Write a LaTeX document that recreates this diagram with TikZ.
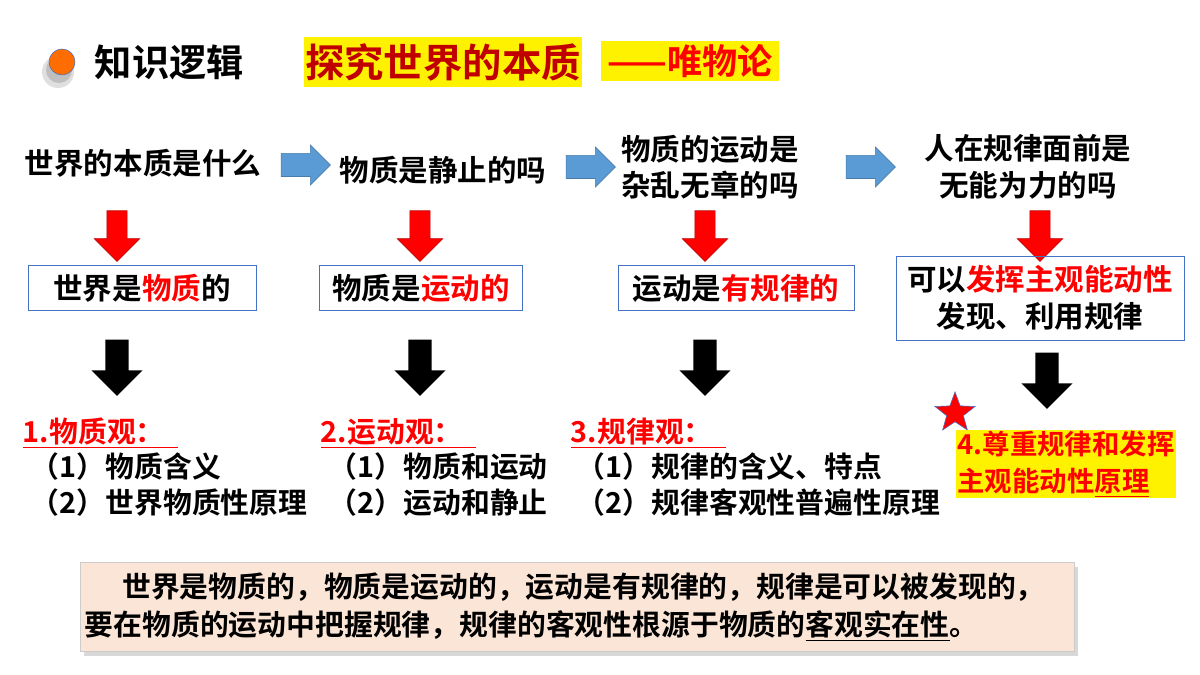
\documentclass[tikz,border=0pt]{standalone}
\usepackage{fontspec}
\setmainfont{Noto Sans CJK SC Bold}
\usetikzlibrary{shapes.arrows,shapes.geometric,shadows}
\definecolor{darkred}{HTML}{C00000}
\definecolor{arrowblue}{HTML}{5B9BD5}
\definecolor{peach}{HTML}{FBE5D6}
\definecolor{boxblue}{HTML}{4472C4}
\tikzset{
  question/.style={font=\fontsize{21}{26}\selectfont,align=center},
  result/.style={draw=boxblue,font=\fontsize{21}{26}\selectfont,align=center,inner sep=4pt},
  view/.style={font=\fontsize{20.5}{24}\selectfont,anchor=west},
  rightarrow/.style={single arrow,fill=arrowblue,draw=arrowblue!80!black,minimum height=35pt,inner sep=8pt,single arrow head extend=6pt},
  downred/.style={single arrow,shape border rotate=270,fill=red,draw=darkred,minimum height=36pt,inner sep=7pt,single arrow head extend=9pt},
  downblack/.style={single arrow,shape border rotate=270,fill=black,minimum height=40pt,inner sep=8pt,single arrow head extend=10pt}
}
\begin{document}
\begin{tikzpicture}[x=0.025cm,y=-0.025cm]
\useasboundingbox (0,0) rectangle (1200,675);
%% title
\fill[gray!25] (58,72) circle (16);
\fill[gray!50] (59,70) circle (13);
\filldraw[fill=orange!85!red,draw=boxblue] (62,62) circle (13);
\node[anchor=west,font=\fontsize{26.5}{30}\selectfont] (logic) at (90,62) {知识逻辑};
\node[fill=yellow,text=darkred,font=\fontsize{28}{32}\selectfont,minimum width=198pt,minimum height=36pt,inner sep=0pt] (theme) at (443,62) {探究世界的本质};
\node[fill=yellow,text=red,font=\fontsize{25}{28}\selectfont,minimum width=127pt,minimum height=28pt,inner sep=0pt] (school) at (690,61) {——唯物论};
%% questions
\node[question] (q1) at (143,163) {世界的本质是什么};
\node[question] (q2) at (443,170) {物质是静止的吗};
\node[question] (q3) at (710,167) {物质的运动是\\杂乱无章的吗};
\node[question] (q4) at (1028,167) {人在规律面前是\\无能为力的吗};
\node[rightarrow] (a12) at (300,165) {};
\node[rightarrow] (a23) at (585,167) {};
\node[rightarrow] (a34) at (865,167) {};
%% red arrows
\foreach \x/\n in {117/1,420/2,705/3,1040/4}
  \node[downred] (r\n) at (\x,231) {};
%% results
\node[result,minimum width=162pt,minimum height=32pt] (s1) at (142,288) {世界是\textcolor{red}{物质}的};
\node[result,minimum width=144pt,minimum height=32pt] (s2) at (421,288) {物质是\textcolor{red}{运动的}};
\node[result,minimum width=168pt,minimum height=32pt] (s3) at (736,288) {运动是\textcolor{red}{有规律的}};
\node[result,minimum width=205pt,minimum height=60pt] (s4) at (1040,298) {可以\textcolor{red}{发挥主观能动性}\\发现、利用规律};
%% black arrows
\foreach \x/\y/\n in {117/362/1,420/362/2,705/362/3,1047/375/4}
  \node[downblack] (b\n) at (\x,\y) {};
%% views
\node[view,text=red] (v1) at (18,433) {\underline{1.物质观：\ \ }};
\node[view] (v1a) at (26,467) {（1）物质含义};
\node[view] (v1b) at (26,503) {（2）世界物质性原理};
\node[view,text=red] (v2) at (316,433) {\underline{2.运动观：\ \ }};
\node[view] (v2a) at (324,467) {（1）物质和运动};
\node[view] (v2b) at (324,503) {（2）运动和静止};
\node[view,text=red] (v3) at (566,433) {\underline{3.规律观：\ \ }};
\node[view] (v3a) at (572,467) {（1）规律的含义、特点};
\node[view] (v3b) at (572,503) {（2）规律客观性普遍性原理};
\node[star,star points=5,star point ratio=2.4,fill=red,draw=boxblue,minimum size=30pt,inner sep=0pt] (mark) at (955,413) {};
\node[fill=yellow,text=red,font=\fontsize{19.5}{26}\selectfont,align=left,inner sep=1pt] (v4) at (1066,464) {4.尊重规律和发挥\\主观能动性\underline{原理}};
%% summary
\node[fill=peach,draw=gray!40,drop shadow={shadow xshift=3pt,shadow yshift=-3pt,fill=gray!60},text width=700pt,minimum height=63pt,font=\fontsize{20.5}{27}\selectfont,align=left] (sum) at (577,607)
 {\hspace{1.3em}世界是物质的，物质是运动的，运动是有规律的，规律是可以被发现的，\\要在物质的运动中把握规律，规律的客观性根源于物质的\underline{客观实在性}。};
\end{tikzpicture}
\end{document}
